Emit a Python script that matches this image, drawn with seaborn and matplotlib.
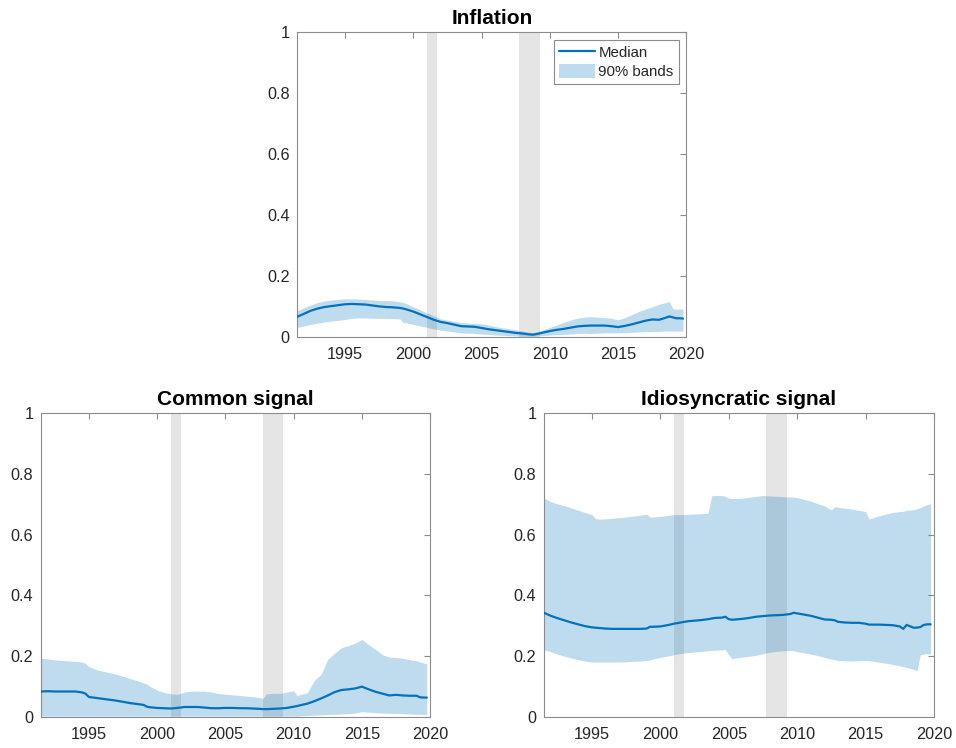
import numpy as np
import pandas as pd
import matplotlib
matplotlib.use("Agg")
import matplotlib.pyplot as plt
import seaborn as sns
from matplotlib.lines import Line2D
from matplotlib.patches import Patch

# ---------------- data ----------------
recessions = [(2001.0, 2001.75), (2007.75, 2009.25)]
x_ticks = [1995, 2000, 2005, 2010, 2015, 2020]
y_ticks = [0, 0.2, 0.4, 0.6, 0.8, 1]
y_ticklabels = ["0", "0.2", "0.4", "0.6", "0.8", "1"]
titles = ["Inflation", "Common signal", "Idiosyncratic signal"]

# Inflation
x_inf = [1991.5, 1992.0, 1992.5, 1993.0, 1993.5, 1994.0, 1994.5, 1995.0, 1995.5, 1996.0,
         1996.5, 1997.0, 1997.5, 1998.0, 1998.5, 1999.0, 1999.25, 1999.5, 2000.0, 2000.5,
         2001.0, 2001.5, 2002.0, 2002.5, 2003.0, 2003.5, 2004.0, 2004.5, 2005.0, 2005.5,
         2006.0, 2006.5, 2007.0, 2007.5, 2008.0, 2008.5, 2008.75, 2009.0, 2009.5, 2010.0,
         2010.5, 2011.0, 2011.5, 2012.0, 2012.5, 2013.0, 2013.5, 2014.0, 2014.5, 2015.0,
         2015.5, 2016.0, 2016.5, 2017.0, 2017.5, 2018.0, 2018.5, 2018.75, 2019.0, 2019.25,
         2019.5, 2019.75]
med_inf = [0.065, 0.075, 0.085, 0.092, 0.097, 0.100, 0.103, 0.106, 0.107, 0.106,
           0.105, 0.102, 0.099, 0.097, 0.096, 0.094, 0.092, 0.089, 0.082, 0.073,
           0.064, 0.055, 0.048, 0.044, 0.039, 0.034, 0.033, 0.032, 0.028, 0.024,
           0.021, 0.018, 0.015, 0.012, 0.010, 0.007, 0.006, 0.008, 0.013, 0.018,
           0.022, 0.025, 0.029, 0.033, 0.035, 0.036, 0.036, 0.036, 0.034, 0.031,
           0.035, 0.040, 0.046, 0.052, 0.056, 0.055, 0.062, 0.066, 0.063, 0.060,
           0.060, 0.059]
lo_inf = [0.030, 0.035, 0.040, 0.044, 0.048, 0.051, 0.053, 0.056, 0.060, 0.061,
          0.061, 0.060, 0.060, 0.060, 0.059, 0.058, 0.046, 0.045, 0.040, 0.035,
          0.030, 0.025, 0.021, 0.018, 0.015, 0.012, 0.011, 0.010, 0.008, 0.007,
          0.005, 0.004, 0.003, 0.002, 0.001, 0.001, 0.001, 0.002, 0.003, 0.005,
          0.006, 0.007, 0.008, 0.010, 0.011, 0.010, 0.011, 0.012, 0.012, 0.012,
          0.013, 0.014, 0.015, 0.016, 0.016, 0.017, 0.018, 0.018, 0.018, 0.018,
          0.018, 0.018]
hi_inf = [0.085, 0.095, 0.104, 0.112, 0.117, 0.120, 0.122, 0.124, 0.124, 0.123,
          0.122, 0.120, 0.118, 0.118, 0.117, 0.114, 0.112, 0.108, 0.098, 0.088,
          0.077, 0.068, 0.058, 0.054, 0.050, 0.046, 0.044, 0.043, 0.042, 0.038,
          0.033, 0.029, 0.026, 0.022, 0.018, 0.014, 0.013, 0.015, 0.022, 0.030,
          0.038, 0.046, 0.054, 0.060, 0.064, 0.065, 0.064, 0.062, 0.060, 0.055,
          0.062, 0.072, 0.082, 0.090, 0.098, 0.106, 0.112, 0.115, 0.092, 0.090,
          0.090, 0.090]

# Common signal
x_com = [1991.5, 1992.0, 1992.5, 1993.0, 1993.5, 1994.0, 1994.5, 1994.75, 1995.0, 1995.5,
         1996.0, 1996.5, 1997.0, 1997.5, 1998.0, 1998.5, 1999.0, 1999.25, 1999.5, 2000.0,
         2000.5, 2001.0, 2001.5, 2002.0, 2002.5, 2003.0, 2003.5, 2004.0, 2004.5, 2005.0,
         2005.5, 2006.0, 2006.5, 2007.0, 2007.5, 2007.75, 2008.0, 2008.5, 2009.0, 2009.5,
         2010.0, 2010.25, 2010.5, 2011.0, 2011.5, 2012.0, 2012.5, 2013.0, 2013.5, 2014.0,
         2014.5, 2015.0, 2015.5, 2016.0, 2016.5, 2017.0, 2017.5, 2018.0, 2018.5, 2019.0,
         2019.25, 2019.5, 2019.75]
med_com = [0.084, 0.085, 0.084, 0.084, 0.084, 0.084, 0.081, 0.077, 0.066, 0.063,
           0.060, 0.057, 0.054, 0.050, 0.046, 0.043, 0.040, 0.034, 0.032, 0.030,
           0.029, 0.028, 0.030, 0.033, 0.033, 0.033, 0.031, 0.029, 0.029, 0.030,
           0.030, 0.029, 0.029, 0.028, 0.027, 0.026, 0.026, 0.027, 0.028, 0.030,
           0.034, 0.036, 0.039, 0.044, 0.052, 0.061, 0.071, 0.082, 0.089, 0.091,
           0.094, 0.100, 0.091, 0.083, 0.077, 0.071, 0.073, 0.071, 0.070, 0.070,
           0.065, 0.064, 0.064]
lo_com = [0.003, 0.003, 0.003, 0.003, 0.003, 0.003, 0.003, 0.003, 0.003, 0.003,
          0.003, 0.003, 0.003, 0.003, 0.003, 0.003, 0.003, 0.003, 0.003, 0.003,
          0.003, 0.003, 0.003, 0.003, 0.003, 0.003, 0.003, 0.003, 0.003, 0.003,
          0.003, 0.003, 0.003, 0.003, 0.003, 0.003, 0.003, 0.003, 0.003, 0.003,
          0.003, 0.003, 0.004, 0.005, 0.006, 0.007, 0.008, 0.009, 0.010, 0.011,
          0.013, 0.018, 0.016, 0.014, 0.013, 0.012, 0.012, 0.011, 0.010, 0.009,
          0.009, 0.008, 0.008]
hi_com = [0.193, 0.191, 0.188, 0.186, 0.185, 0.183, 0.181, 0.176, 0.166, 0.156,
          0.151, 0.146, 0.141, 0.134, 0.127, 0.120, 0.112, 0.108, 0.100, 0.088,
          0.081, 0.076, 0.075, 0.082, 0.085, 0.085, 0.085, 0.082, 0.077, 0.075,
          0.073, 0.071, 0.069, 0.067, 0.064, 0.061, 0.076, 0.078, 0.078, 0.082,
          0.086, 0.071, 0.074, 0.080, 0.120, 0.140, 0.190, 0.210, 0.228, 0.235,
          0.243, 0.255, 0.238, 0.222, 0.205, 0.197, 0.196, 0.193, 0.189, 0.185,
          0.181, 0.178, 0.175]

# Idiosyncratic signal
x_idi = [1991.5, 1992.0, 1992.5, 1993.0, 1993.5, 1994.0, 1994.5, 1995.0, 1995.25, 1995.5,
         1996.0, 1996.5, 1997.0, 1997.5, 1998.0, 1998.5, 1999.0, 1999.25, 1999.5, 2000.0,
         2000.5, 2001.0, 2001.5, 2002.0, 2002.5, 2003.0, 2003.5, 2003.75, 2004.0, 2004.5,
         2004.75, 2005.0, 2005.25, 2005.5, 2006.0, 2006.5, 2007.0, 2007.5, 2008.0, 2008.5,
         2009.0, 2009.5, 2009.75, 2010.0, 2010.5, 2011.0, 2011.5, 2012.0, 2012.5, 2012.75,
         2013.0, 2013.5, 2014.0, 2014.5, 2015.0, 2015.25, 2015.5, 2016.0, 2016.5, 2017.0,
         2017.5, 2017.75, 2018.0, 2018.5, 2018.75, 2019.0, 2019.25, 2019.5, 2019.75]
med_idi = [0.343, 0.333, 0.325, 0.318, 0.311, 0.305, 0.299, 0.295, 0.294, 0.293,
           0.291, 0.290, 0.290, 0.290, 0.290, 0.290, 0.291, 0.297, 0.297, 0.298,
           0.302, 0.307, 0.311, 0.315, 0.317, 0.319, 0.322, 0.324, 0.326, 0.327,
           0.330, 0.322, 0.320, 0.321, 0.323, 0.326, 0.330, 0.332, 0.334, 0.335,
           0.336, 0.339, 0.343, 0.341, 0.337, 0.333, 0.327, 0.321, 0.320, 0.318,
           0.313, 0.311, 0.310, 0.310, 0.307, 0.304, 0.304, 0.304, 0.303, 0.302,
           0.298, 0.290, 0.303, 0.294, 0.294, 0.296, 0.303, 0.305, 0.305]
lo_idi = [0.221, 0.215, 0.207, 0.200, 0.194, 0.189, 0.184, 0.181, 0.181, 0.181,
          0.181, 0.181, 0.181, 0.182, 0.183, 0.184, 0.186, 0.188, 0.191, 0.196,
          0.200, 0.205, 0.209, 0.212, 0.214, 0.216, 0.218, 0.219, 0.220, 0.221,
          0.222, 0.205, 0.192, 0.194, 0.197, 0.200, 0.203, 0.208, 0.213, 0.216,
          0.218, 0.219, 0.218, 0.215, 0.211, 0.207, 0.202, 0.196, 0.191, 0.189,
          0.186, 0.185, 0.184, 0.185, 0.186, 0.185, 0.184, 0.180, 0.177, 0.173,
          0.168, 0.166, 0.163, 0.157, 0.152, 0.205, 0.207, 0.208, 0.208]
hi_idi = [0.721, 0.708, 0.701, 0.695, 0.688, 0.680, 0.673, 0.666, 0.653, 0.651,
          0.652, 0.654, 0.656, 0.658, 0.661, 0.664, 0.667, 0.658, 0.658, 0.660,
          0.663, 0.666, 0.666, 0.667, 0.668, 0.669, 0.671, 0.728, 0.729, 0.729,
          0.726, 0.720, 0.719, 0.719, 0.720, 0.723, 0.726, 0.729, 0.727, 0.726,
          0.725, 0.724, 0.723, 0.722, 0.716, 0.710, 0.702, 0.695, 0.681, 0.692,
          0.690, 0.687, 0.684, 0.680, 0.676, 0.651, 0.655, 0.662, 0.668, 0.673,
          0.676, 0.677, 0.680, 0.682, 0.685, 0.689, 0.694, 0.699, 0.702]

# ---------------- style ----------------
sns.set_theme(style="white")
plt.rcParams["font.family"] = ["Liberation Sans", "DejaVu Sans"]

LINE_C = "#0072BD"
SPINE_C = "#8c8c8c"
TEXT_C = "#262626"

fig = plt.figure(figsize=(9.56, 7.48), dpi=100)
ax_top = fig.add_axes([0.311, 0.5501, 0.407, 0.407])
ax_bl = fig.add_axes([0.043, 0.0414, 0.407, 0.4064])
ax_br = fig.add_axes([0.569, 0.0414, 0.408, 0.4064])

panels = [
    (ax_top, x_inf, med_inf, lo_inf, hi_inf, titles[0]),
    (ax_bl, x_com, med_com, lo_com, hi_com, titles[1]),
    (ax_br, x_idi, med_idi, lo_idi, hi_idi, titles[2]),
]

for ax, x, med, lo, hi, title in panels:
    assert len(x) == len(med) == len(lo) == len(hi)
    df = pd.DataFrame({"year": x, "median": med, "lo": lo, "hi": hi})
    for (a, b) in recessions:
        ax.axvspan(a, b, color=(0.5, 0.5, 0.5), alpha=0.2, lw=0, zorder=1)
    ax.fill_between(df["year"], df["lo"], df["hi"], color=LINE_C, alpha=0.25,
                    lw=0, zorder=2)
    sns.lineplot(data=df, x="year", y="median", ax=ax, color=LINE_C, lw=1.6,
                 zorder=3, estimator=None, sort=False)
    ax.set_xlim(1991.5, 2020)
    ax.set_ylim(0, 1)
    ax.set_xticks(x_ticks)
    ax.set_xticklabels([str(t) for t in x_ticks])
    ax.set_yticks(y_ticks)
    ax.set_yticklabels(y_ticklabels)
    ax.set_xlabel("")
    ax.set_ylabel("")
    ax.set_title(title, fontsize=15, fontweight="bold", color="black", pad=6)
    ax.tick_params(axis="both", direction="in", top=True, right=True, length=4,
                   width=0.8, color=SPINE_C, labelsize=11.7, labelcolor=TEXT_C)
    ax.tick_params(axis="x", pad=7.5)
    ax.tick_params(axis="y", pad=5.5)
    for s in ax.spines.values():
        s.set_visible(True)
        s.set_color(SPINE_C)
        s.set_linewidth(0.8)
    ax.set_facecolor("white")

handles = [Line2D([0], [0], color=LINE_C, lw=1.6),
           Patch(facecolor=LINE_C, alpha=0.25, edgecolor="none")]
leg = ax_top.legend(handles, ["Median", "90% bands"], loc="upper right",
                    fontsize=10.8, frameon=True, fancybox=False, framealpha=1,
                    edgecolor=SPINE_C, borderaxespad=0.5, handlelength=2.4,
                    handleheight=1.0, handletextpad=0.2, borderpad=0.35,
                    labelspacing=0.3)
leg.get_frame().set_linewidth(0.8)

fig.savefig("out.png", dpi=100, facecolor="white")
